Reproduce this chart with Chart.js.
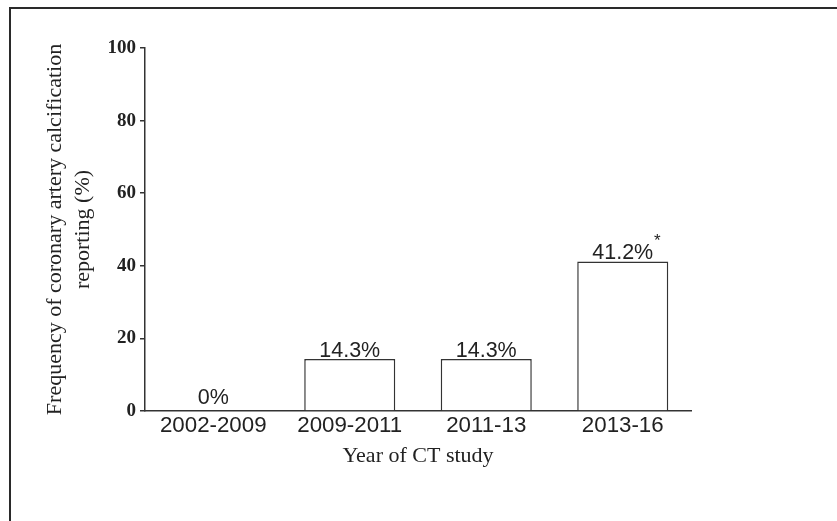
<!DOCTYPE html>
<html>
<head>
<meta charset="utf-8">
<script src="https://cdn.jsdelivr.net/npm/chart.js@4.4.1/dist/chart.umd.min.js"></script>
<style>
  body { margin: 0; background: #fff; }
  #wrap { position: relative; width: 837px; height: 521px; }
  #frame {
    position: absolute; left: 9px; top: 7px; width: 840px; height: 530px;
    border-top: 2px solid #2a2a2a; border-left: 2px solid #2a2a2a;
  }
  canvas { position: absolute; left: 0; top: 0; }
</style>
</head>
<body>
<div id="wrap">
  <div id="frame"></div>
  <canvas id="ctChart" width="837" height="521"></canvas>
</div>
<script>
const periods = ["2002-2009", "2009-2011", "2011-13", "2013-16"];
const frequency = [0, 14.3, 14.3, 41.2];
const valueLabels = ["0%", "14.3%", "14.3%", "41.2%"];
const marks = ["", "", "", "*"];
const yTicks = [0, 20, 40, 60, 80, 100];

const serif = "'Liberation Serif', 'Times New Roman', serif";
const sans = "'Liberation Sans', Arial, sans-serif";

const barLabels = {
  id: 'barLabels',
  afterDatasetsDraw(chart) {
    const ctx = chart.ctx;
    const bars = chart.getDatasetMeta(0).data;
    ctx.save();
    ctx.fillStyle = '#222';
    ctx.textAlign = 'center';
    ctx.textBaseline = 'alphabetic';
    bars.forEach((bar, i) => {
      ctx.font = "21.5px " + sans;
      const gap = frequency[i] === 0 ? 7 : 2;
      const y = bar.y - gap;
      ctx.fillText(valueLabels[i], bar.x, y);
      if (marks[i]) {
        const w = ctx.measureText(valueLabels[i]).width;
        ctx.font = "17px " + sans;
        ctx.fillText(marks[i], bar.x + w / 2 + 4, y - 13);
      }
    });
    ctx.restore();
  }
};

new Chart(document.getElementById("ctChart"), {
  type: "bar",
  data: {
    labels: periods,
    datasets: [{
      data: frequency,
      backgroundColor: '#fff',
      borderColor: '#333',
      borderWidth: 1.5,
      borderSkipped: 'bottom',
      barPercentage: 0.667,
      categoryPercentage: 1
    }]
  },
  options: {
    responsive: false,
    devicePixelRatio: 1,
    animation: false,
    layout: { padding: { left: 41, top: 48, right: 146, bottom: 50 } },
    plugins: {
      legend: { display: false },
      tooltip: { enabled: false }
    },
    scales: {
      x: {
        afterFit: s => { s.height = 60; },
        grid: { display: true, drawOnChartArea: false, drawTicks: false },
        border: { display: true, color: '#333', width: 1.5 },
        ticks: { color: '#222', padding: 1, font: { family: sans, size: 22.3 } },
        title: {
          display: true, text: 'Year of CT study', color: '#222',
          padding: { top: 0, bottom: 2 },
          font: { family: serif, size: 22 }
        }
      },
      y: {
        min: 0, max: 100,
        afterFit: s => { s.width = 104; },
        afterBuildTicks: s => { s.ticks = yTicks.map(v => ({ value: v })); },
        grid: { display: true, drawOnChartArea: false, drawTicks: true, tickLength: 5, color: '#333', lineWidth: 1.5 },
        border: { display: true, color: '#333', width: 1.5 },
        ticks: { color: '#222', padding: 4, font: { family: serif, size: 19, weight: 'bold' } },
        title: {
          display: true,
          text: ['Frequency of coronary artery calcification', 'reporting (%)'],
          color: '#222',
          padding: { top: 0, bottom: 0 },
          font: { family: serif, size: 22, lineHeight: 1.27 }
        }
      }
    }
  },
  plugins: [barLabels]
});
</script>
</body>
</html>
